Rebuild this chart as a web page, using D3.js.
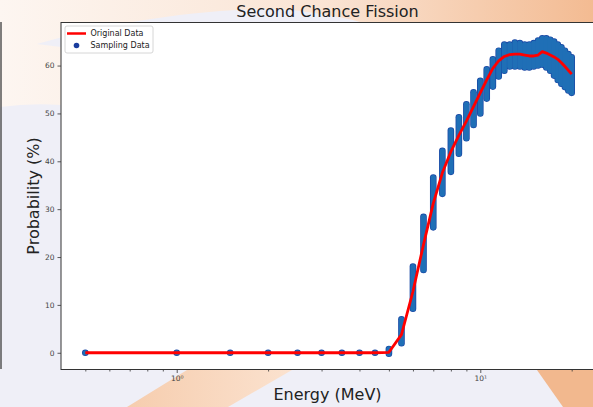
<!DOCTYPE html>
<html>
<head>
<meta charset="utf-8">
<script src="https://cdn.jsdelivr.net/npm/d3@7"></script>
<style>
  html, body { margin: 0; padding: 0; background: #efeff7; }
  svg { display: block; font-family: "DejaVu Sans", sans-serif; }
</style>
</head>
<body>
<svg id="chart" width="593" height="407"></svg>
<script>
// energies in MeV (0.5 step)
const energies = [0.5, 1, 1.5, 2, 2.5, 3, 3.5, 4, 4.5, 5, 5.5, 6, 6.5, 7, 7.5, 8, 8.5, 9, 9.5, 10,
    10.5, 11, 11.5, 12, 12.5, 13, 13.5, 14, 14.5, 15, 15.5, 16, 16.5, 17, 17.5, 18, 18.5, 19, 19.5, 20];
// red curve, probability in %
const original = [0, 0, 0, 0, 0, 0, 0, 0, 0, 0.1, 3.8, 12.8, 22.6, 31.2, 37.6, 42.0, 45.4, 48.4, 51.4, 54.3,
    57.0, 59.4, 61.0, 61.9, 62.3, 62.4, 62.4, 62.2, 62.0, 62.0, 62.2, 62.9, 62.6, 62.2, 61.8, 61.3, 60.6, 59.8, 59.0, 58.2];
// spread of the sampled points at each energy
const sampleLow = [0, 0, 0, 0, 0, 0, 0, 0, 0, -0.2, 2.0, 9.2, 17.3, 26.2, 33.2, 37.8, 41.6, 44.8, 47.6, 50.0,
    53.1, 55.6, 57.7, 58.9, 59.8, 59.8, 59.8, 59.6, 59.6, 59.8, 60.0, 60.2, 59.6, 58.9, 57.9, 57.0, 56.2, 55.5, 54.8, 54.3];
const sampleHigh = [0, 0, 0, 0, 0, 0, 0, 0, 0, 0.8, 7.0, 18.0, 28.4, 36.6, 42.2, 46.4, 49.2, 51.9, 54.4, 56.8,
    59.2, 61.3, 63.1, 64.4, 64.4, 64.8, 64.7, 64.4, 64.4, 64.7, 65.2, 65.7, 65.7, 65.4, 65.0, 64.4, 63.8, 63.1, 62.4, 61.7];

const yTicks = [0, 10, 20, 30, 40, 50, 60];
const xMajor = [1, 10];
const xMinor = [0.5, 0.6, 0.7, 0.8, 0.9, 2, 3, 4, 5, 6, 7, 8, 9, 20];
const legendItems = ["Original Data", "Sampling Data"];

const W = 593, H = 407;
const plot = { left: 61, right: 596, top: 22.5, bottom: 369.5 };

const svg = d3.select("#chart");
const defs = svg.append("defs");

// slide background bits
const g1 = defs.append("linearGradient").attr("id", "topGrad").attr("x1", 0).attr("x2", 1);
g1.append("stop").attr("offset", 0).attr("stop-color", "#fdf6f1");
g1.append("stop").attr("offset", 0.55).attr("stop-color", "#fae4d4");
g1.append("stop").attr("offset", 1).attr("stop-color", "#f3bb92");
const g2 = defs.append("linearGradient").attr("id", "stripeGrad").attr("x1", 0).attr("x2", 1);
g2.append("stop").attr("offset", 0).attr("stop-color", "#f6cdae");
g2.append("stop").attr("offset", 1).attr("stop-color", "#fbe2cf");

svg.append("rect").attr("width", W).attr("height", H).attr("fill", "#efeff7");
svg.append("path")
    .attr("d", "M0,0 H593 V22 H61 V105 Q30,103 0,107 Z")
    .attr("fill", "url(#topGrad)");
svg.append("path")
    .attr("d", "M37,44 C130,16 250,4 300,11 C330,15 350,19 360,22 H61 V47 Z")
    .attr("fill", "#efeff7");
svg.append("path")
    .attr("d", "M127,407 L187,370 L292,370 L228,407 Z")
    .attr("fill", "url(#stripeGrad)");
svg.append("path")
    .attr("d", "M537,370 L593,370 L593,407 L563,407 Z")
    .attr("fill", "#f2b88e");
svg.append("line")
    .attr("x1", 1).attr("x2", 1).attr("y1", 22).attr("y2", 369)
    .attr("stroke", "#555").attr("stroke-width", 1.5);

// scales, 5% padding like matplotlib autoscale
const lx0 = Math.log10(d3.min(energies)), lx1 = Math.log10(d3.max(energies));
const lpad = 0.05 * (lx1 - lx0);
const x = d3.scaleLog()
    .domain([Math.pow(10, lx0 - lpad), Math.pow(10, lx1 + lpad)])
    .range([plot.left, plot.right]);
const yMin = d3.min(sampleLow), yMax = d3.max(sampleHigh);
const ypad = 0.05 * (yMax - yMin);
const y = d3.scaleLinear()
    .domain([yMin - ypad, yMax + ypad])
    .range([plot.bottom, plot.top]);

svg.append("rect")
    .attr("x", plot.left).attr("y", plot.top)
    .attr("width", plot.right - plot.left).attr("height", plot.bottom - plot.top)
    .attr("fill", "#fff");

defs.append("clipPath").attr("id", "clip").append("rect")
    .attr("x", plot.left).attr("y", plot.top)
    .attr("width", plot.right - plot.left).attr("height", plot.bottom - plot.top);

const data = energies.map((e, i) => ({ e, v: original[i], lo: sampleLow[i], hi: sampleHigh[i] }));

// sampling bands: dark outline pass then lighter fill pass
const marks = svg.append("g").attr("clip-path", "url(#clip)");
[{ w: 6.6, c: "#1845a4" }, { w: 5.2, c: "#1f6fb6" }].forEach(pass => {
    marks.append("g")
        .selectAll("line")
        .data(data)
        .enter().append("line")
        .attr("x1", d => x(d.e)).attr("x2", d => x(d.e))
        .attr("y1", d => y(d.lo)).attr("y2", d => y(d.hi) - 0.01)
        .attr("stroke", pass.c)
        .attr("stroke-width", pass.w)
        .attr("stroke-linecap", "round");
});

const line = d3.line().x(d => x(d.e)).y(d => y(d.v));
marks.append("path")
    .datum(data)
    .attr("d", line)
    .attr("fill", "none")
    .attr("stroke", "#ff0000")
    .attr("stroke-width", 2.8)
    .attr("stroke-linejoin", "round");

// frame
svg.append("rect")
    .attr("x", plot.left).attr("y", plot.top)
    .attr("width", plot.right - plot.left).attr("height", plot.bottom - plot.top)
    .attr("fill", "none").attr("stroke", "#333").attr("stroke-width", 1);

// axes
const yAxis = svg.append("g")
    .attr("transform", `translate(${plot.left},0)`)
    .call(d3.axisLeft(y).tickValues(yTicks).tickSize(3.5).tickPadding(3));
const xAxis = svg.append("g")
    .attr("transform", `translate(0,${plot.bottom})`)
    .call(d3.axisBottom(x).tickValues(xMajor).tickSize(3.5).tickPadding(3)
        .tickFormat(d => d === 1 ? "10\u2070" : "10\u00b9"));
const xMinorAxis = svg.append("g")
    .attr("transform", `translate(0,${plot.bottom})`)
    .call(d3.axisBottom(x).tickValues(xMinor).tickSize(2).tickFormat(""));
[yAxis, xAxis, xMinorAxis].forEach(a => {
    a.select(".domain").remove();
    a.selectAll("line").attr("stroke", "#333").attr("stroke-width", 0.8);
    a.selectAll("text").attr("fill", "#444").attr("font-size", "7.5px")
        .attr("font-family", "DejaVu Sans, sans-serif");
});

// titles
svg.append("text")
    .attr("x", (plot.left + plot.right) / 2 - 1).attr("y", 17)
    .attr("text-anchor", "middle").attr("font-size", "16px").attr("fill", "#222")
    .text("Second Chance Fission");
svg.append("text")
    .attr("x", (plot.left + plot.right) / 2 - 1).attr("y", 400)
    .attr("text-anchor", "middle").attr("font-size", "16px").attr("fill", "#222")
    .text("Energy (MeV)");
svg.append("text")
    .attr("transform", `translate(39,${(plot.top + plot.bottom) / 2}) rotate(-90)`)
    .attr("text-anchor", "middle").attr("font-size", "16px").attr("fill", "#222")
    .text("Probability (%)");

// legend
const lg = svg.append("g").attr("transform", "translate(65,26)");
lg.append("rect")
    .attr("width", 88).attr("height", 27).attr("rx", 2)
    .attr("fill", "#fff").attr("fill-opacity", 0.85)
    .attr("stroke", "#ccc").attr("stroke-width", 0.8);
lg.append("line")
    .attr("x1", 2).attr("x2", 21).attr("y1", 7.5).attr("y2", 7.5)
    .attr("stroke", "#ff0000").attr("stroke-width", 2.5);
lg.append("circle")
    .attr("cx", 11.5).attr("cy", 19.5).attr("r", 2.8)
    .attr("fill", "#1a3d9e");
lg.selectAll("text.item")
    .data(legendItems)
    .enter().append("text")
    .attr("class", "item")
    .attr("x", 25.5).attr("y", (d, i) => 7.5 + i * 12)
    .attr("dy", "0.35em")
    .attr("font-size", "8px").attr("fill", "#222")
    .text(d => d);
</script>
</body>
</html>
